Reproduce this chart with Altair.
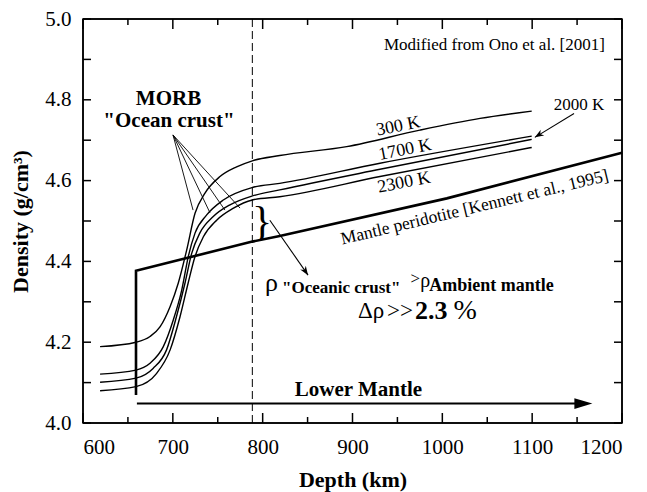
import altair as alt
import pandas as pd

# ---------------- data ----------------
depth_major = [600, 700, 800, 900, 1000, 1100, 1200]
depth_minor = [650, 750, 850, 950, 1050, 1150]
density_ticks = [4.0, 4.1, 4.2, 4.3, 4.4, 4.5, 4.6, 4.7, 4.8, 4.9, 5.0]
density_labels = [4.0, 4.2, 4.4, 4.6, 4.8, 5.0]

k300_depth = [619, 659, 674.6, 685.7, 696.9, 706, 715.4, 724.7, 735.8, 752.5, 771, 788.5, 819, 893.5, 975, 1042, 1099.5]
k300_dens = [4.189, 4.200, 4.214, 4.238, 4.288, 4.346, 4.428, 4.519, 4.569, 4.610, 4.634, 4.649, 4.662, 4.684, 4.725, 4.754, 4.772]

k1700_depth = [619, 659, 674.6, 689.4, 700.5, 709.9, 717.2, 724.7, 737.7, 756.2, 788.5, 819, 930.6, 1099.5]
k1700_dens = [4.121, 4.131, 4.148, 4.189, 4.255, 4.329, 4.412, 4.470, 4.515, 4.552, 4.583, 4.593, 4.643, 4.710]

k2000_depth = [619, 659, 678, 693, 704, 713.5, 721, 730, 745, 763.6, 788.5, 819, 930.6, 1099.5]
k2000_dens = [4.101, 4.111, 4.135, 4.181, 4.263, 4.346, 4.420, 4.470, 4.511, 4.540, 4.562, 4.577, 4.628, 4.702]

k2300_depth = [619, 659, 682, 697, 708, 717, 724.7, 734, 748.8, 767, 788.5, 819, 930.6, 1099.5]
k2300_dens = [4.080, 4.090, 4.123, 4.181, 4.263, 4.346, 4.412, 4.461, 4.502, 4.531, 4.552, 4.560, 4.610, 4.682]

mantle_depth = [659, 659, 788.5, 819, 1005, 1200]
mantle_dens = [4.069, 4.377, 4.449, 4.463, 4.556, 4.669]

boundary_depth = 788.5

lower_mantle_start = [660, 4.048]
lower_mantle_tip = [1167, 4.048]

crust_origin = [700.2, 4.713]
crust_ends_depth = [722.5, 741.4, 758, 774.8]
crust_ends_dens = [4.527, 4.520, 4.527, 4.532]

arrow_2000_from = [1146.6, 4.766]
arrow_2000_to = [1103, 4.707]
arrow_brace_from = [808, 4.502]
arrow_brace_to = [850.5, 4.366]

# ---------------- helpers ----------------
W, H = 539, 404
SERIF = "Liberation Serif"
xs = alt.Scale(domain=[600, 1200], nice=False, zero=False)
ys = alt.Scale(domain=[4.0, 5.0], nice=False, zero=False)

X_AXIS = alt.Axis(
    values=depth_major, format="d", ticks=False, tickSize=0, domain=False, grid=False,
    labelFont=SERIF, labelFontSize=21, labelColor="black", labelPadding=13,
    title="Depth (km)", titleFont=SERIF, titleFontSize=22, titleFontWeight="bold",
    titleColor="black", titlePadding=12)
Y_AXIS = alt.Axis(
    values=density_labels, format=".1f", ticks=False, tickSize=0, domain=False, grid=False,
    labelFont=SERIF, labelFontSize=21, labelColor="black", labelPadding=12,
    title="Density (g/cm³)", titleFont=SERIF, titleFontSize=22, titleFontWeight="bold",
    titleColor="black", titlePadding=12)


def X(field="x"):
    return alt.X(f"{field}:Q", scale=xs, axis=X_AXIS)


def Y(field="y"):
    return alt.Y(f"{field}:Q", scale=ys, axis=Y_AXIS)


def text_layer(x, y, t, size, weight="normal", align="center", angle=0, font=SERIF):
    df = pd.DataFrame({"x": [x], "y": [y], "t": [t]})
    return alt.Chart(df).mark_text(
        font=font, fontSize=size, fontWeight=weight, align=align,
        baseline="middle", angle=angle, color="black"
    ).encode(x=X(), y=Y(), text="t:N")


def segment(p0, p1, width=1.0):
    df = pd.DataFrame({"x": [p0[0]], "y": [p0[1]], "x2": [p1[0]], "y2": [p1[1]]})
    return alt.Chart(df).mark_rule(color="black", strokeWidth=width).encode(
        x=X(), y=Y(), x2="x2:Q", y2="y2:Q")


def head(p, angle, size, shape):
    df = pd.DataFrame({"x": [p[0]], "y": [p[1]]})
    return alt.Chart(df).mark_point(
        shape=shape, filled=True, color="black", size=size, angle=angle, opacity=1
    ).encode(x=X(), y=Y())


# ---------------- curves ----------------
rows = []
for name, ds, vs in [("300 K", k300_depth, k300_dens), ("1700 K", k1700_depth, k1700_dens),
                     ("2000 K", k2000_depth, k2000_dens), ("2300 K", k2300_depth, k2300_dens)]:
    for i, (d, v) in enumerate(zip(ds, vs)):
        rows.append({"series": name, "x": d, "y": v, "o": i})
curves_df = pd.DataFrame(rows)

curves = alt.Chart(curves_df).mark_line(
    color="black", strokeWidth=1.4, interpolate="monotone"
).encode(x=X(), y=Y(), detail="series:N", order="o:Q")

mantle_df = pd.DataFrame({"x": mantle_depth, "y": mantle_dens, "o": list(range(len(mantle_depth)))})
mantle = alt.Chart(mantle_df).mark_line(color="black", strokeWidth=2.6).encode(
    x=X(), y=Y(), order="o:Q")

dashed = alt.Chart(pd.DataFrame({"x": [boundary_depth]})).mark_rule(
    color="black", strokeWidth=1, strokeDash=[8, 4]).encode(x=X())

# ticks (inward)
tx_major = pd.DataFrame({"x": depth_major})
tx_minor = pd.DataFrame({"x": depth_minor})
ty = pd.DataFrame({"y": density_ticks})
ticks = [
    alt.Chart(tx_major).mark_rule(color="black", strokeWidth=1.5).encode(x=X(), y=alt.value(H), y2=alt.value(H - 10)),
    alt.Chart(tx_minor).mark_rule(color="black", strokeWidth=1.5).encode(x=X(), y=alt.value(H), y2=alt.value(H - 6)),
    alt.Chart(tx_major).mark_rule(color="black", strokeWidth=1.5).encode(x=X(), y=alt.value(0), y2=alt.value(10)),
    alt.Chart(tx_minor).mark_rule(color="black", strokeWidth=1.5).encode(x=X(), y=alt.value(0), y2=alt.value(6)),
    alt.Chart(ty).mark_rule(color="black", strokeWidth=1.5).encode(y=Y(), x=alt.value(0), x2=alt.value(8)),
    alt.Chart(ty).mark_rule(color="black", strokeWidth=1.5).encode(y=Y(), x=alt.value(W - 8), x2=alt.value(W)),
]

# frame
frame = [
    alt.Chart(pd.DataFrame({"x": [600, 1200]})).mark_rule(color="black", strokeWidth=1.5).encode(x=X()),
    alt.Chart(pd.DataFrame({"y": [4.0, 5.0]})).mark_rule(color="black", strokeWidth=1.5).encode(y=Y()),
]

# lower mantle arrow
lm_line = segment(lower_mantle_start, [lower_mantle_tip[0] - 12, lower_mantle_tip[1]], width=2)
lm_head = head(lower_mantle_tip, 0, 324, "M -2 -0.6 L 0 0 L -2 0.6 Z")

# crust pointer lines
pointers = [segment(crust_origin, [d, v], width=0.9) for d, v in zip(crust_ends_depth, crust_ends_dens)]

V_SHAPE = "M -2 -0.75 L 0 0 L -2 0.75 L -1.4 0 Z"
arrow2000 = [segment(arrow_2000_from, arrow_2000_to, 1.1), head(arrow_2000_to, 148, 81, V_SHAPE)]
arrowbrace = [segment(arrow_brace_from, arrow_brace_to, 1.1), head(arrow_brace_to, 56, 81, V_SHAPE)]

texts = [
    text_layer(1181, 4.936, "Modified from Ono et al. [2001]", 17, align="right"),
    text_layer(695.2, 4.802, "MORB", 21, weight="bold"),
    text_layer(695.7, 4.748, "\"Ocean crust\"", 21, weight="bold"),
    text_layer(951, 4.734, "300 K", 18, angle=349),
    text_layer(958.5, 4.676, "1700 K", 18, angle=349),
    text_layer(957.3, 4.595, "2300 K", 18, angle=349),
    text_layer(1152.2, 4.787, "2000 K", 17),
    text_layer(1036, 4.533, "Mantle peridotite [Kennett et al., 1995]", 17.5, angle=346.5),
    text_layer(799.3, 4.4975, "}", 42),
    text_layer(802.6, 4.3465, "ρ", 26, align="left"),
    text_layer(821.5, 4.334, "\"Oceanic crust\"", 17, weight="bold", align="left"),
    text_layer(964.5, 4.3564, ">", 17, align="left"),
    text_layer(975.5, 4.351, "ρ", 20, align="left"),
    text_layer(985.5, 4.339, "Ambient mantle", 18, weight="bold", align="left"),
    text_layer(906.1, 4.2772, "Δρ", 23, align="left"),
    text_layer(938.5, 4.2772, ">>", 23, align="left"),
    text_layer(969.5, 4.2772, "2.3", 26, weight="bold", align="left"),
    text_layer(1012.5, 4.2772, "%", 28, align="left"),
    text_layer(906.7, 4.0817, "Lower Mantle", 21, weight="bold"),
]

chart = alt.layer(
    curves, mantle, dashed, *ticks, *frame, lm_line, lm_head, *pointers,
    *arrow2000, *arrowbrace, *texts
).properties(
    width=W, height=H,
    padding={"left": 83, "top": 19, "right": 25, "bottom": 69},
    autosize=alt.AutoSizeParams(type="none"),
    background="white",
).configure_view(stroke="black", strokeWidth=1.5)

chart.save("out.html", embed_options={"renderer": "svg", "actions": False})
